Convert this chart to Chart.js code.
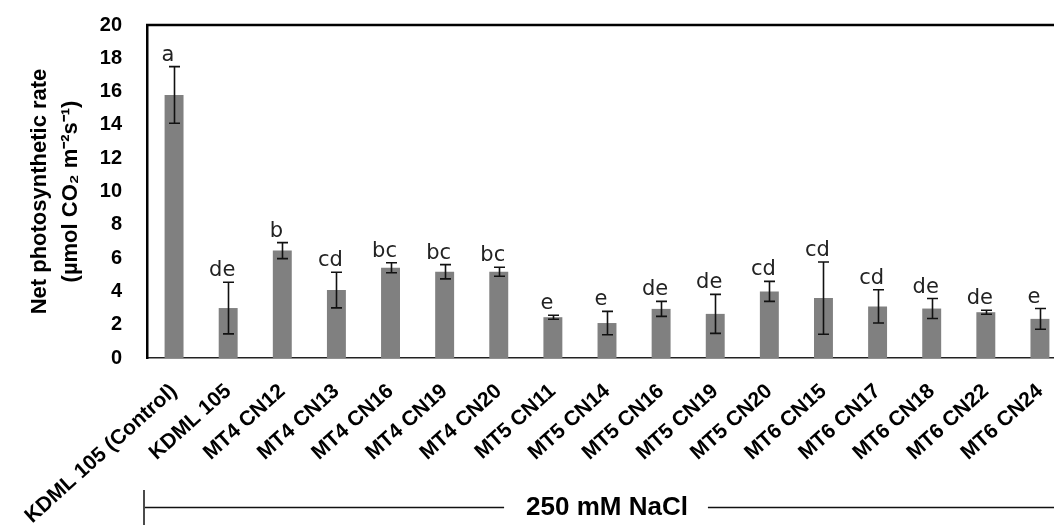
<!DOCTYPE html>
<html>
<head>
<meta charset="utf-8">
<script src="https://cdn.jsdelivr.net/npm/chart.js@4.4.1/dist/chart.umd.min.js"></script>
<style>
  html, body { margin: 0; padding: 0; background: #ffffff; overflow: hidden; }
  #wrap { width: 1067px; height: 530px; }
</style>
</head>
<body>
<div id="wrap"><canvas id="c" width="1067" height="530"></canvas></div>
<script>
const categories = [
  'KDML 105 (Control)', 'KDML 105', 'MT4 CN12', 'MT4 CN13', 'MT4 CN16', 'MT4 CN19',
  'MT4 CN20', 'MT5 CN11', 'MT5 CN14', 'MT5 CN16', 'MT5 CN19', 'MT5 CN20',
  'MT6 CN15', 'MT6 CN17', 'MT6 CN18', 'MT6 CN22', 'MT6 CN24'
];
const rateValues = [15.8, 3.0, 6.45, 4.08, 5.42, 5.18, 5.18, 2.45, 2.1, 2.95, 2.65, 4.0, 3.6, 3.1, 2.97, 2.75, 2.35];
const rateErrors = [1.7, 1.55, 0.48, 1.07, 0.3, 0.43, 0.27, 0.12, 0.7, 0.45, 1.17, 0.6, 2.17, 1.0, 0.6, 0.12, 0.62];
const groupLetters = ['a', 'de', 'b', 'cd', 'bc', 'bc', 'bc', 'e', 'e', 'de', 'de', 'cd', 'cd', 'cd', 'de', 'de', 'e'];
const yTitleLines = ['Net photosynthetic rate', '(\u00b5mol CO\u2082 m\u207b\u00b2s\u207b\u00b9)'];
const xTitle = '250 mM NaCl';

const errorBarPlugin = {
  id: 'errorBars',
  afterDatasetsDraw(chart) {
    const ctx = chart.ctx;
    const y = chart.scales.y;
    const meta = chart.getDatasetMeta(0);
    ctx.save();
    ctx.strokeStyle = '#111111';
    ctx.lineWidth = 1.6;
    meta.data.forEach((bar, i) => {
      const x = Math.round(bar.x) + 0.5;
      const top = y.getPixelForValue(rateValues[i] + rateErrors[i]);
      const bot = y.getPixelForValue(rateValues[i] - rateErrors[i]);
      const cap = 5.5;
      ctx.beginPath();
      ctx.moveTo(x, top); ctx.lineTo(x, bot);
      ctx.moveTo(x - cap, top); ctx.lineTo(x + cap, top);
      ctx.moveTo(x - cap, bot); ctx.lineTo(x + cap, bot);
      ctx.stroke();
      ctx.fillStyle = '#222222';
      ctx.font = '21px "DejaVu Sans", sans-serif';
      ctx.textAlign = 'center';
      ctx.textBaseline = 'alphabetic';
      ctx.fillText(groupLetters[i], bar.x - 6, top - 6);
    });
    ctx.restore();
  }
};

const framePlugin = {
  id: 'frame',
  afterDraw(chart) {
    const ctx = chart.ctx;
    const area = chart.chartArea;
    const xs = chart.scales.x;
    ctx.save();
    // top frame line
    ctx.strokeStyle = '#000000';
    ctx.lineWidth = 2.5;
    ctx.beginPath();
    ctx.moveTo(area.left - 1, area.top);
    ctx.lineTo(chart.width, area.top);
    ctx.stroke();
    // bracket around "250 mM NaCl"
    ctx.font = 'bold 26px "Liberation Sans", Arial, sans-serif';
    const w = ctx.measureText(xTitle).width;
    const cx = (xs.left + xs.right) / 2;
    const ly = 507.5;
    ctx.lineWidth = 1.5;
    ctx.strokeStyle = '#111111';
    ctx.beginPath();
    ctx.moveTo(area.left - 3, 490); ctx.lineTo(area.left - 3, 525);
    ctx.moveTo(area.left - 2, ly); ctx.lineTo(cx - w / 2 - 22, ly);
    ctx.moveTo(cx + w / 2 + 20, ly); ctx.lineTo(chart.width, ly);
    ctx.stroke();
    ctx.restore();
  }
};

new Chart(document.getElementById('c'), {
  type: 'bar',
  data: {
    labels: categories,
    datasets: [{
      data: rateValues,
      backgroundColor: '#808080',
      borderWidth: 0,
      barPercentage: 0.35,
      categoryPercentage: 1.0
    }]
  },
  options: {
    responsive: false,
    devicePixelRatio: 1,
    animation: false,
    layout: { padding: { top: 25, left: 0, right: 0, bottom: 0 } },
    plugins: { legend: { display: false }, tooltip: { enabled: false } },
    scales: {
      x: {
        grid: { display: false, drawTicks: false },
        border: { display: true, color: '#222222', width: 1.5 },
        ticks: {
          color: '#000000',
          font: { family: '"Liberation Sans", Arial, sans-serif', size: 21, weight: 'bold' },
          minRotation: 42, maxRotation: 42, padding: 21, autoSkip: false
        },
        title: {
          display: true, text: xTitle, color: '#000000',
          font: { family: '"Liberation Sans", Arial, sans-serif', size: 26, weight: 'bold', lineHeight: 1.2 },
          padding: { top: 0, bottom: 7 }
        },
        afterFit(scale) { scale.height = 172; scale.paddingLeft = 0; scale.paddingRight = 0; }
      },
      y: {
        min: 0, max: 20,
        grid: { display: false, drawTicks: false },
        border: { display: true, color: '#000000', width: 2.5 },
        ticks: {
          stepSize: 2, color: '#000000', padding: 25,
          font: { family: '"Liberation Sans", Arial, sans-serif', size: 20, weight: 'bold' }
        },
        title: {
          display: true, text: yTitleLines, color: '#000000',
          font: { family: '"Liberation Sans", Arial, sans-serif', size: 22, weight: 'bold', lineHeight: 1.4 },
          padding: { top: 25, bottom: 0 }
        },
        afterFit(scale) { scale.width = 147; scale.paddingTop = 0; scale.paddingBottom = 0; }
      }
    }
  },
  plugins: [errorBarPlugin, framePlugin]
});
</script>
</body>
</html>
